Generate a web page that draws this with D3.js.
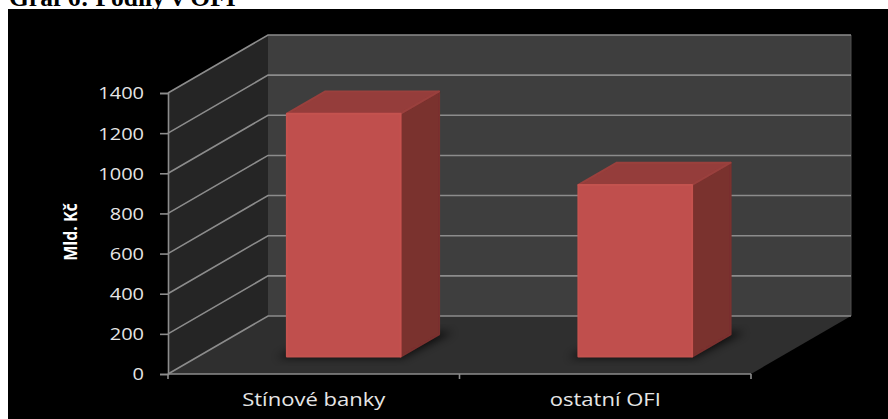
<!DOCTYPE html>
<html>
<head>
<meta charset="utf-8">
<script src="https://cdn.jsdelivr.net/npm/d3@7"></script>
<style>
  html, body { margin: 0; padding: 0; background: #ffffff; }
  svg { display: block; }
</style>
</head>
<body>
<svg id="chart" width="888" height="419"></svg>
<script>
// Chart data
const chartTitle = "Graf 6: Podíly v OFI";
const yAxisTitle = "Mld. Kč";
const categories = ["Stínové banky", "ostatní OFI"];
const values = [1210, 855];
const yTicks = [0, 200, 400, 600, 800, 1000, 1200, 1400];

const svg = d3.select("#chart");
const W = 888, H = 419;

// Layout of the 3D box (front plane + depth vector)
const front = { left: 168, right: 751, bottom: 374, top: 93 };
const depth = { dx: 100, dy: -58 };
const barDepth = { near: 0.30, far: 0.685 };
const barWidthRatio = 0.39;
const stretchX = 1.22;

const x = d3.scaleBand().domain(categories).range([front.left, front.right]).padding(0);
const y = d3.scaleLinear().domain([0, d3.max(yTicks)]).range([front.bottom, front.top]);

// project a point of the front plane to a given depth fraction
const P = (px, v, d) => [px + d * depth.dx, y(v) + d * depth.dy];
const poly = pts => "M" + pts.map(p => p.join(",")).join("L") + "Z";

const defs = svg.append("defs");
defs.append("filter").attr("id", "shadowBlur").attr("x", "-30%").attr("y", "-30%")
  .attr("width", "160%").attr("height", "160%")
  .append("feGaussianBlur").attr("stdDeviation", 4);
defs.append("filter").attr("id", "soft")
  .append("feGaussianBlur").attr("stdDeviation", 0.6);

// Dark chart area
svg.append("rect").attr("x", 8).attr("y", 9).attr("width", W - 8).attr("height", H - 9).attr("fill", "#000");

// Title (partially above the frame)
svg.append("g").attr("transform", `translate(9,6) scale(1.02,1)`)
  .append("text").text(chartTitle)
  .attr("font-family", "'Liberation Serif', 'Times New Roman', serif")
  .attr("font-weight", "bold").attr("font-size", 25).attr("fill", "#000");

const yMax = d3.max(yTicks);
const walls = svg.append("g");

// Side wall (left)
walls.append("path")
  .attr("d", poly([P(front.left, 0, 0), P(front.left, yMax, 0), P(front.left, yMax, 1), P(front.left, 0, 1)]))
  .attr("fill", "#252525");
// Back wall
walls.append("path")
  .attr("d", poly([P(front.left, 0, 1), P(front.left, yMax, 1), P(front.right, yMax, 1), P(front.right, 0, 1)]))
  .attr("fill", "#3e3e3e");
// Floor
walls.append("path")
  .attr("d", poly([P(front.left, 0, 0), P(front.right, 0, 0), P(front.right, 0, 1), P(front.left, 0, 1)]))
  .attr("fill", "#2f2f2f");
// Right edge of back wall
walls.append("line")
  .attr("x1", P(front.right, 0, 1)[0]).attr("y1", P(front.right, 0, 1)[1])
  .attr("x2", P(front.right, yMax, 1)[0]).attr("y2", P(front.right, yMax, 1)[1])
  .attr("stroke", "#4e4e4e").attr("stroke-width", 1);

// Gridlines: diagonal on side wall, horizontal on back wall
const grid = svg.append("g").attr("stroke", "#8c8c8c").attr("stroke-width", 1.6).attr("fill", "none");
yTicks.forEach(v => {
  grid.append("path").attr("d", "M" + P(front.left, v, 0) + "L" + P(front.left, v, 1) + "L" + P(front.right, v, 1));
});

// Bars
const bw = x.bandwidth() * barWidthRatio;
const bars = svg.append("g");
categories.forEach((c, i) => {
  const v = values[i];
  const x0 = x(c) + (x.bandwidth() - bw) / 2, x1 = x0 + bw;
  const n = barDepth.near, f = barDepth.far;
  // floor shadow
  bars.append("path")
    .attr("d", poly([P(x0 - 8, 0, n - 0.02), P(x1 + 4, 0, n - 0.02), P(x1 + 10, 0, f + 0.04), P(x0 - 2, 0, f + 0.04)]))
    .attr("fill", "#000").attr("opacity", 0.75).attr("filter", "url(#shadowBlur)");
  const g = bars.append("g").attr("filter", "url(#soft)")
    .attr("stroke-linejoin", "round").attr("stroke-width", 2);
  // side face
  g.append("path")
    .attr("d", poly([P(x1, 0, n), P(x1, v, n), P(x1, v, f), P(x1, 0, f)]))
    .attr("fill", "#7a302e").attr("stroke", "#7a302e");
  // top face
  g.append("path")
    .attr("d", poly([P(x0, v, n), P(x1, v, n), P(x1, v, f), P(x0, v, f)]))
    .attr("fill", "#953c3a").attr("stroke", "#9a403d");
  // front face
  g.append("path")
    .attr("d", poly([P(x0, 0, n), P(x0, v, n), P(x1, v, n), P(x1, 0, n)]))
    .attr("fill", "#c0504d").attr("stroke", "#c4524f");
});

// Y axis on the front plane
const yAxis = svg.append("g").attr("transform", `translate(${front.left},0)`)
  .call(d3.axisLeft(y).tickValues(yTicks).tickSize(8).tickPadding(0).tickFormat(d3.format("d")));
yAxis.select(".domain").attr("stroke", "#8c8c8c").attr("stroke-width", 1.6);
yAxis.selectAll(".tick line").attr("stroke", "#8c8c8c").attr("stroke-width", 1.6);
yAxis.selectAll(".tick text")
  .attr("x", 0).attr("dy", "0.36em")
  .attr("transform", `translate(-24,0) scale(${stretchX},1)`)
  .attr("fill", "#e6e6e6").attr("font-size", 16.4)
  .attr("font-family", "'Open Sans', 'Noto Sans', sans-serif");

// X axis along the front floor edge
const xAxis = svg.append("g").attr("transform", `translate(0,${front.bottom})`)
  .call(d3.axisBottom(x).tickSize(0).tickPadding(0));
xAxis.select(".domain").remove();
xAxis.append("line").attr("x1", front.left).attr("x2", front.right).attr("y1", 0).attr("y2", 0)
  .attr("stroke", "#8c8c8c").attr("stroke-width", 1.6);
const bounds = [front.left].concat(categories.map(c => x(c) + x.bandwidth()));
xAxis.selectAll(".sep").data(bounds).join("line").attr("class", "sep")
  .attr("x1", d => d).attr("x2", d => d).attr("y1", 0).attr("y2", 5)
  .attr("stroke", "#8c8c8c").attr("stroke-width", 1.6);
xAxis.selectAll(".tick text")
  .attr("y", 0).attr("dy", 0)
  .attr("transform", `translate(0,32) scale(${stretchX + 0.04},1)`)
  .attr("fill", "#e6e6e6").attr("font-size", 17.5)
  .attr("font-family", "'Open Sans', 'Noto Sans', sans-serif");

// Y axis title
svg.append("text").text(yAxisTitle)
  .attr("transform", "translate(77,232) rotate(-90) scale(1,1.1)")
  .attr("text-anchor", "middle")
  .attr("fill", "#ffffff").attr("font-weight", "bold").attr("font-size", 16)
  .attr("font-family", "'Open Sans', 'Noto Sans', sans-serif");
</script>
</body>
</html>
